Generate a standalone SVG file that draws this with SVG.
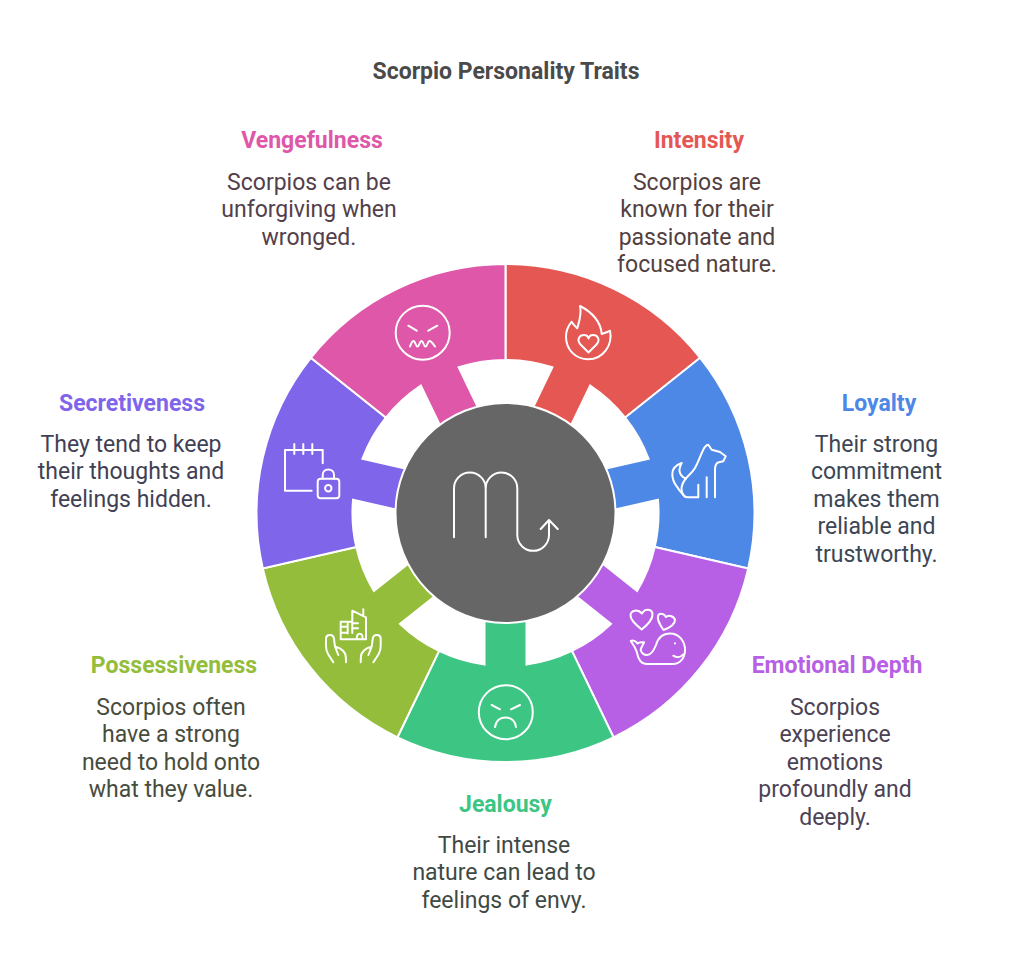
<svg xmlns="http://www.w3.org/2000/svg" width="1024" height="970" viewBox="0 0 1024 970">
<style>
.seg{stroke:#fff;stroke-width:2;stroke-linejoin:miter}
.ic{fill:none;stroke:#fff;stroke-width:2;stroke-linecap:round;stroke-linejoin:round}
text{font-family:Roboto,"Liberation Sans",sans-serif;text-anchor:middle}
.t{font-size:23px;font-weight:700;fill:#4a4a4a}
.h{font-size:23px;font-weight:700}
.b{font-size:23px;font-weight:400}
</style>
<defs>
<path id="seg" d="M-108 -224.3A249 249 0 0 1 108 -224.3L66.4 -137.9A153 153 0 0 0 21 -151.6L21 -100L-21 -100L-21 -151.6A153 153 0 0 0 -66.4 -137.9Z"/>
</defs>
<rect width="1024" height="970" fill="#fff"/>
<text class="t" x="506" y="78.500">Scorpio Personality Traits</text>

<g id="intensity">
<use href="#seg" class="seg" fill="#E55753" transform="translate(505.5 513) rotate(25.714)"/>
<path class="ic" d="M580 306C592 312 601 322 601.700 334C605 333 608 332 610 330.700C613 345 603 359.300 588.300 359.300C575 359.300 566 349 566 336.700C566 330 569 325 571.700 321.700C573 324 575 326 577.300 328.300C579 322 582 314 580 306Z"/>
<path class="ic" d="M588.500 352.500L580.500 344.500C576 339 580 335 584 335C586.500 335 588 336.500 588.500 338.500C589 336.500 591 335 593 335C597 335 601 339 596.500 344.500Z"/>
<text class="h" x="699" y="147.500" fill="#E55753">Intensity</text>
<text class="b" fill="#53403F"><tspan x="697" y="189.500">Scorpios are</tspan><tspan x="697" y="217">known for their</tspan><tspan x="697" y="244.500">passionate and</tspan><tspan x="697" y="272">focused nature.</tspan></text>
</g>

<g id="loyalty">
<use href="#seg" class="seg" fill="#4E88E7" transform="translate(505.5 513) rotate(77.143)"/>
<path class="ic" d="M703.300 449.700C704.500 447 706.500 445 708.300 444.700L711.700 449.700L720 452L725.700 456.300L723.300 461.300L718 462.500C716 463.500 715 466 715 470L715 497.300M706.700 477.300L706.700 497.300M703.300 449.700C700 456 699 461 695 468C692 473 688 475.500 685.700 478.700C682.500 483 681 488 681.700 491C682.500 495 685 497.300 688 497.300L698.300 497.300L698.300 484.700"/>
<path class="ic" d="M681.700 463C676 465 672.300 469 672.300 474C672.300 480 674.500 483.500 676.700 486.300C678.500 489.500 681 492.500 683.300 494.700M681.700 463C678.500 469 678 475 685.700 478.700"/>
<text class="h" x="879" y="410.500" fill="#4E88E7">Loyalty</text>
<text class="b" fill="#3D4654"><tspan x="876.500" y="451.500">Their strong</tspan><tspan x="876.500" y="479">commitment</tspan><tspan x="876.500" y="506.500">makes them</tspan><tspan x="876.500" y="534">reliable and</tspan><tspan x="876.500" y="561.500">trustworthy.</tspan></text>
</g>

<g id="emotional-depth">
<use href="#seg" class="seg" fill="#B75FE5" transform="translate(505.5 513) rotate(128.571)"/>
<path class="ic" d="M641.700 629.500C636 625 630 620 630.500 615C631 610 638 609 642 613.500C645 608 652 609 652.500 614C653 620 646 626 641.700 629.500Z"/>
<path class="ic" d="M663.500 630C660 625 657 619 658 616C659 613 664 613 666 617C669 614 674.500 617 675 620C675 625 669 628 663.500 630Z"/>
<path class="ic" d="M670 633.500C679 633.500 685 641 685 650C685 659 679 664 673 664L646 664C640 664 638 658 636.700 651.700C635 647 633 644 630.700 641C633 640 636 641 637.500 643.500C639 642 641.500 642 644 642.300C643 645 641 647 640.700 650C641 653 644 655 647 655C651 655 654 650 656 645C658 638 663 633.500 670 633.500Z"/>
<path class="ic" d="M673.300 655.700C676 657.500 680 658 683.300 654.300M675 643.300L675 643.400"/>
<text class="h" x="837" y="673" fill="#B75FE5">Emotional Depth</text>
<text class="b" fill="#4C4254"><tspan x="835" y="714.500">Scorpios</tspan><tspan x="835" y="742">experience</tspan><tspan x="835" y="769.500">emotions</tspan><tspan x="835" y="797">profoundly and</tspan><tspan x="835" y="824.500">deeply.</tspan></text>
</g>

<g id="jealousy">
<use href="#seg" class="seg" fill="#3DC584" transform="translate(505.5 513) rotate(180)"/>
<circle class="ic" cx="505.800" cy="712.200" r="27"/>
<path class="ic" d="M491.700 705L500 709.300M520 705L511 709.300M495 727C496 720 501 717.500 505.500 717.500C510 717.500 515 720 516 727"/>
<text class="h" x="505.500" y="811.500" fill="#3DC584">Jealousy</text>
<text class="b" fill="#3F4A45"><tspan x="504" y="852.500">Their intense</tspan><tspan x="504" y="880">nature can lead to</tspan><tspan x="504" y="907.500">feelings of envy.</tspan></text>
</g>

<g id="possessiveness">
<use href="#seg" class="seg" fill="#93BD3A" transform="translate(505.5 513) rotate(231.429)"/>
<path class="ic" d="M352.300 621.700L340.700 621.700L340.700 639.300L366 639.300L366 617.300L352.300 610.700L352.300 633M363.300 609.300L363.300 615M340.700 626.700L346.700 626.700M340.700 632.700L346.700 632.700M352.300 623.300L358 623.300M352.300 628.300L358 628.300M356.700 639.300C356.700 632 362.700 632 362.700 639.300M347.700 623.500L347.700 633.500"/>
<path class="ic" d="M333.300 662.300L328 654C326.300 651 326 649 326 646L326 639C326 634 333.500 633.500 334 639L335 646.700L338.300 655M335 646.700C340.500 647.500 345.800 652 345.800 657L346 662.300"/>
<path class="ic" d="M373.400 662.300L378.700 654C380.400 651 380.700 649 380.700 646L380.700 639C380.700 634 373.200 633.500 372.700 639L371.700 646.700L368.400 655M371.700 646.700C366.200 647.500 360.900 652 360.900 657L360.700 662.300"/>
<text class="h" x="174" y="673" fill="#93BD3A">Possessiveness</text>
<text class="b" fill="#484C3C"><tspan x="171" y="714.500">Scorpios often</tspan><tspan x="171" y="742">have a strong</tspan><tspan x="171" y="769.500">need to hold onto</tspan><tspan x="171" y="797">what they value.</tspan></text>
</g>

<g id="secretiveness">
<use href="#seg" class="seg" fill="#7E65EA" transform="translate(505.5 513) rotate(282.857)"/>
<path class="ic" d="M311.700 490.700L285 490.700L285 450L322.700 450L322.700 463.300M294.300 444L294.300 454M303.300 444L303.300 454M312.300 444L312.300 454"/>
<rect class="ic" x="317.700" y="478.700" width="21.600" height="19.600" rx="3"/>
<path class="ic" d="M322.700 478.700L322.700 475C322.700 467.500 334 467.500 334 475L334 478.700"/>
<circle class="ic" cx="328.300" cy="488.300" r="3.200"/>
<text class="h" x="132" y="410.500" fill="#7E65EA">Secretiveness</text>
<text class="b" fill="#413F54"><tspan x="131" y="451.500">They tend to keep</tspan><tspan x="131" y="479">their thoughts and</tspan><tspan x="131" y="506.500">feelings hidden.</tspan></text>
</g>

<g id="vengefulness">
<use href="#seg" class="seg" fill="#DE57A8" transform="translate(505.5 513) rotate(334.286)"/>
<circle class="ic" cx="422.700" cy="332.700" r="27"/>
<path class="ic" d="M408.300 325.700L416.700 330.700M437.300 325.700L428.300 330.700M410 346.500C411 344 412 341 413.500 341C415.500 341 415.500 346.500 417.500 346.500C419.500 346.500 419.500 341 421.500 341C423.500 341 423.500 346.500 425.500 346.500C427.500 346.500 427.500 341 429.500 341C431.500 341 433 344 435 346.500"/>
<text class="h" x="312" y="147.500" fill="#DE57A8">Vengefulness</text>
<text class="b" fill="#53404B"><tspan x="309" y="189.500">Scorpios can be</tspan><tspan x="309" y="217">unforgiving when</tspan><tspan x="309" y="244.500">wronged.</tspan></text>
</g>

<g id="center">
<circle cx="505.500" cy="513" r="110" fill="#666666" stroke="#fff" stroke-width="2"/>
<path class="ic" d="M454 537.300L454 488.300A15.850 15.850 0 0 1 485.700 488.300L485.700 537.300M485.700 488.300A15.800 15.800 0 0 1 517.300 488.300L517.300 535A15.850 15.850 0 0 0 549 535L549 520.500M540.700 529L549 520L557.700 529"/>
</g>
</svg>
